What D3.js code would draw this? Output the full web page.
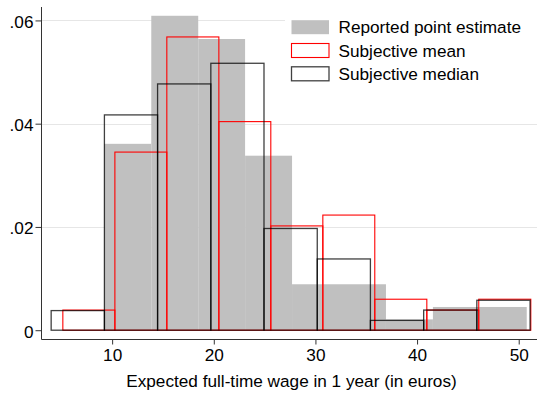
<!DOCTYPE html>
<html>
<head>
<meta charset="utf-8">
<script src="https://cdn.jsdelivr.net/npm/d3@7"></script>
<style>
  html, body { margin: 0; padding: 0; background: #fff; }
  svg { display: block; font-family: "Liberation Sans", Arial, sans-serif; }
</style>
</head>
<body>
<svg id="chart" width="537" height="394"></svg>
<script>
// Histogram bin edges (euros) and densities for each series
const reportedEdges = [9.23, 13.85, 18.47, 23.08, 27.70, 32.32, 36.94, 41.56, 46.17, 50.79];
const reportedDensity = [0.0361, 0.0609, 0.0564, 0.0338, 0.0089, 0.0089, 0.0021, 0.0045, 0.0045];

const meanEdges = [5.15, 10.27, 15.38, 20.50, 25.61, 30.73, 35.84, 40.96, 46.07, 51.19];
const meanDensity = [0.0039, 0.0345, 0.0568, 0.0404, 0.0202, 0.0223, 0.0060, 0.0039, 0.0060];

const medianEdges = [4.00, 9.24, 14.47, 19.71, 24.94, 30.18, 35.41, 40.65, 45.88, 51.12];
const medianDensity = [0.0038, 0.0417, 0.0477, 0.0517, 0.0197, 0.0138, 0.0019, 0.0039, 0.0058];

const xTicks = [10, 20, 30, 40, 50];
const yTicks = [0, 0.02, 0.04, 0.06];
const yTickLabels = ["0", ".02", ".04", ".06"];

const legendLabels = ["Reported point estimate", "Subjective mean", "Subjective median"];
const xTitle = "Expected full-time wage in 1 year (in euros)";

const svg = d3.select("#chart");
const plotLeft = 41.5, plotRight = 537, plotTop = 7, plotBottom = 339.5;
const fontSize = 17.2;

const x = d3.scaleLinear().domain([3.05, 51.8]).range([plotLeft, plotRight]);
const y = d3.scaleLinear().domain([-0.0018, 0.0626]).range([plotBottom, plotTop]);

const toBins = (edges, dens) => dens.map((d, i) => ({ x0: edges[i], x1: edges[i + 1], d }));

// gridlines
svg.append("g")
  .selectAll("line")
  .data(yTicks.filter(t => t > 0))
  .join("line")
  .attr("x1", plotLeft).attr("x2", plotRight)
  .attr("y1", d => Math.round(y(d)) + 0.5).attr("y2", d => Math.round(y(d)) + 0.5)
  .attr("stroke", "#e6e6e6").attr("stroke-width", 1);

// reported point estimate: filled gray bars
svg.append("g")
  .selectAll("rect")
  .data(toBins(reportedEdges, reportedDensity))
  .join("rect")
  .attr("x", b => x(b.x0)).attr("width", b => x(b.x1) - x(b.x0))
  .attr("y", b => y(b.d)).attr("height", b => y(0) - y(b.d))
  .attr("fill", "#c0c0c0");

// subjective mean: red outlines
svg.append("g")
  .selectAll("rect")
  .data(toBins(meanEdges, meanDensity))
  .join("rect")
  .attr("x", b => x(b.x0)).attr("width", b => x(b.x1) - x(b.x0))
  .attr("y", b => y(b.d)).attr("height", b => y(0) - y(b.d))
  .attr("fill", "none")
  .attr("stroke", "#ff0000").attr("stroke-width", 1.1);

// subjective median: dark outlines
svg.append("g")
  .selectAll("rect")
  .data(toBins(medianEdges, medianDensity))
  .join("rect")
  .attr("x", b => x(b.x0)).attr("width", b => x(b.x1) - x(b.x0))
  .attr("y", b => y(b.d)).attr("height", b => y(0) - y(b.d))
  .attr("fill", "none")
  .attr("stroke", "#000").attr("stroke-opacity", 0.75).attr("stroke-width", 1.3);

// axes
const yAxis = d3.axisLeft(y).tickValues(yTicks)
  .tickFormat((d, i) => yTickLabels[i]).tickSize(6).tickPadding(2).tickSizeOuter(0);
const gy = svg.append("g").attr("transform", `translate(${plotLeft},0)`).call(yAxis);
gy.select(".domain").remove();
gy.append("line").attr("x1", 0).attr("x2", 0).attr("y1", plotTop).attr("y2", plotBottom)
  .attr("stroke", "#333");
gy.selectAll(".tick line").attr("stroke", "#333");
gy.selectAll(".tick text").attr("font-size", fontSize).attr("fill", "#000")
  .attr("font-family", "'Liberation Sans', Arial, sans-serif").attr("dy", "0.4em");

const xAxis = d3.axisBottom(x).tickValues(xTicks).tickSize(5).tickPadding(4).tickSizeOuter(0);
const gx = svg.append("g").attr("transform", `translate(0,${plotBottom})`).call(xAxis);
gx.select(".domain").remove();
gx.append("line").attr("x1", plotLeft).attr("x2", plotRight).attr("y1", 0).attr("y2", 0)
  .attr("stroke", "#333");
gx.selectAll(".tick line").attr("stroke", "#333");
gx.selectAll(".tick text").attr("font-size", fontSize).attr("fill", "#000")
  .attr("font-family", "'Liberation Sans', Arial, sans-serif");

svg.append("text")
  .attr("x", 291.5).attr("y", 386.5)
  .attr("text-anchor", "middle").attr("font-size", fontSize).attr("fill", "#000")
  .text(xTitle);

// legend
const lg = svg.append("g");
lg.append("rect").attr("x", 285).attr("y", 8).attr("width", 252).attr("height", 80).attr("fill", "#fff");
const swatchStyles = [
  { fill: "#c0c0c0", stroke: "none", op: 1, w: 0 },
  { fill: "#fff", stroke: "#ff0000", op: 1, w: 1.1 },
  { fill: "#fff", stroke: "#000", op: 0.75, w: 1.3 }
];
legendLabels.forEach((label, i) => {
  const cy = 27.2 + i * 23.3;
  const s = swatchStyles[i];
  lg.append("rect")
    .attr("x", 291.5).attr("y", cy - 7).attr("width", 37.5).attr("height", 14)
    .attr("fill", s.fill).attr("stroke", s.stroke).attr("stroke-opacity", s.op).attr("stroke-width", s.w);
  lg.append("text")
    .attr("x", 338.5).attr("y", cy + 6.1)
    .attr("font-size", fontSize).attr("fill", "#000")
    .text(label);
});
</script>
</body>
</html>
